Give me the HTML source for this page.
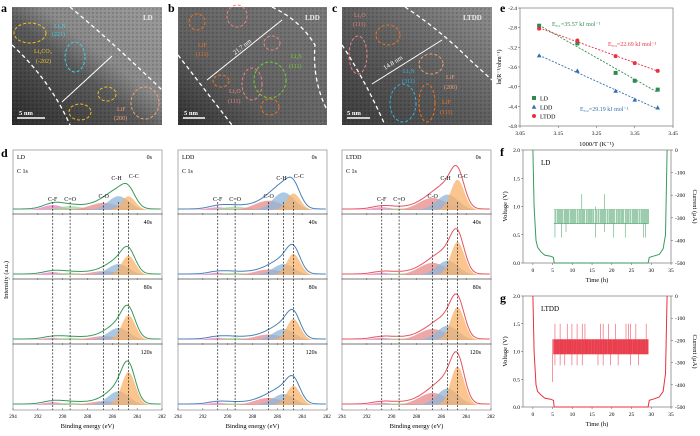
<!DOCTYPE html>
<html><head><meta charset="utf-8">
<style>
html,body{margin:0;padding:0;background:#fff;}
svg{display:block;font-family:"Liberation Serif",serif;}
</style></head>
<body>
<svg id="fig" width="700" height="436" viewBox="0 0 700 436" xmlns="http://www.w3.org/2000/svg">
<defs>
<linearGradient id="gA" x1="0" y1="1" x2="1" y2="0"><stop offset="0" stop-color="#2a2a2a"/><stop offset="0.45" stop-color="#5a5a5a"/><stop offset="0.6" stop-color="#8a8a8a"/><stop offset="1" stop-color="#9a9a9a"/></linearGradient>
<linearGradient id="gB" x1="0" y1="1" x2="1" y2="0"><stop offset="0" stop-color="#2e2e2e"/><stop offset="0.35" stop-color="#5e5e5e"/><stop offset="1" stop-color="#7a7a7a"/></linearGradient>
<linearGradient id="gC" x1="0" y1="1" x2="1" y2="0"><stop offset="0" stop-color="#3a3a3a"/><stop offset="0.5" stop-color="#5e5e5e"/><stop offset="1" stop-color="#8e8e8e"/></linearGradient>
<pattern id="noise" width="4" height="4" patternUnits="userSpaceOnUse"><rect width="4" height="4" fill="none"/><rect x="0" y="0" width="2" height="2" fill="#000" opacity="0.12"/><rect x="2" y="2" width="1" height="1" fill="#fff" opacity="0.1"/></pattern>
</defs>

<!-- Panel a -->
<g>
<text x="1" y="12" font-size="12" font-weight="bold">a</text>
<rect x="12" y="7" width="150" height="118" fill="url(#gA)"/>
<rect x="12" y="7" width="150" height="118" fill="url(#noise)"/>
<path d="M70,7 Q110,40 162,90" stroke="#fff" stroke-width="1.3" stroke-dasharray="4,3" fill="none"/>
<path d="M12,45 Q50,80 70,125" stroke="#fff" stroke-width="1.3" stroke-dasharray="4,3" fill="none"/>
<line x1="62" y1="102" x2="112" y2="56" stroke="#fff" stroke-width="1"/>
<ellipse cx="30" cy="33" rx="16" ry="10" fill="none" stroke="#f0c020" stroke-dasharray="3,2"/>
<ellipse cx="75" cy="57" rx="10" ry="15" fill="none" stroke="#40d0e0" stroke-dasharray="3,2"/>
<ellipse cx="107" cy="94" rx="9" ry="7" fill="none" stroke="#f0c020" stroke-dasharray="3,2"/>
<ellipse cx="80" cy="112" rx="11" ry="8" fill="none" stroke="#f0c020" stroke-dasharray="3,2"/>
<ellipse cx="145" cy="103" rx="14" ry="16" fill="none" stroke="#f0a070" stroke-dasharray="3,2"/>
<text x="54" y="28" font-size="6" fill="#40d0e0">Li₃N</text><text x="52" y="36" font-size="6" fill="#40d0e0">(221)</text>
<text x="34" y="53" font-size="6" fill="#f0c020">Li₂CO₃</text><text x="36" y="63" font-size="6" fill="#f0c020">(-202)</text>
<text x="117" y="111" font-size="6" fill="#f0a070">LiF</text><text x="114" y="120" font-size="6" fill="#f0a070">(200)</text>
<text x="143" y="20" font-size="7" font-weight="bold" fill="#eee">LD</text>
<line x1="17" y1="118" x2="45" y2="118" stroke="#fff" stroke-width="1.5"/><text x="19" y="115" font-size="6.5" fill="#fff" font-weight="bold">5 nm</text>
</g>
<!-- Panel b -->
<g>
<text x="168" y="12" font-size="12" font-weight="bold">b</text>
<rect x="178" y="7" width="149" height="118" fill="url(#gB)"/>
<rect x="178" y="7" width="149" height="118" fill="url(#noise)"/>
<path d="M272,7 Q300,20 315,45 Q312,80 327,110" stroke="#fff" stroke-width="1.3" stroke-dasharray="4,3" fill="none"/>
<path d="M178,55 Q205,90 232,125" stroke="#fff" stroke-width="1.3" stroke-dasharray="4,3" fill="none"/>
<line x1="207" y1="80" x2="282" y2="20" stroke="#fff" stroke-width="1"/>
<text x="235" y="55" font-size="6.5" fill="#fff" transform="rotate(-38 235 55)">21.7 nm</text>
<ellipse cx="197" cy="22" rx="8" ry="8" fill="none" stroke="#f07020" stroke-dasharray="3,2"/>
<ellipse cx="237" cy="16" rx="10" ry="11" fill="none" stroke="#f08080" stroke-dasharray="3,2"/>
<ellipse cx="272" cy="43" rx="8" ry="7" fill="none" stroke="#f08080" stroke-dasharray="3,2"/>
<ellipse cx="270" cy="80" rx="16" ry="18" fill="none" stroke="#70d030" stroke-dasharray="3,2"/>
<ellipse cx="252" cy="84" rx="10" ry="16" fill="none" stroke="#f08080" stroke-dasharray="3,2"/>
<ellipse cx="221" cy="81" rx="8" ry="6" fill="none" stroke="#f07020" stroke-dasharray="3,2"/>
<ellipse cx="270" cy="107" rx="9" ry="8" fill="none" stroke="#f07020" stroke-dasharray="3,2"/>
<text x="198" y="47" font-size="6" fill="#f07020">LiF</text><text x="196" y="56" font-size="6" fill="#f07020">(111)</text>
<text x="291" y="58" font-size="6" fill="#70d030">Li₂S</text><text x="289" y="68" font-size="6" fill="#70d030">(111)</text>
<text x="229" y="93" font-size="6" fill="#f08080">Li₂O</text><text x="228" y="103" font-size="6" fill="#f08080">(111)</text>
<text x="305" y="20" font-size="7" font-weight="bold" fill="#eee">LDD</text>
<line x1="183" y1="118" x2="205" y2="118" stroke="#fff" stroke-width="1.5"/><text x="184" y="115" font-size="6.5" fill="#fff" font-weight="bold">5 nm</text>
</g>
<!-- Panel c -->
<g>
<text x="332" y="12" font-size="12" font-weight="bold">c</text>
<rect x="342" y="7" width="150" height="118" fill="url(#gC)"/>
<rect x="342" y="7" width="150" height="118" fill="url(#noise)"/>
<path d="M405,7 Q440,30 470,60 L492,80" stroke="#fff" stroke-width="1.3" stroke-dasharray="4,3" fill="none"/>
<path d="M342,45 Q365,80 385,125" stroke="#fff" stroke-width="1.3" stroke-dasharray="4,3" fill="none"/>
<line x1="372" y1="84" x2="442" y2="40" stroke="#fff" stroke-width="1"/>
<text x="385" y="70" font-size="6.5" fill="#fff" transform="rotate(-32 385 70)">14.8 nm</text>
<ellipse cx="388" cy="35" rx="12" ry="10" fill="none" stroke="#f07020" stroke-dasharray="3,2"/>
<ellipse cx="358" cy="55" rx="9" ry="19" fill="none" stroke="#f08080" stroke-dasharray="3,2"/>
<ellipse cx="403" cy="103" rx="13" ry="19" fill="none" stroke="#30b0e0" stroke-dasharray="3,2"/>
<ellipse cx="427" cy="103" rx="8" ry="19" fill="none" stroke="#f07020" stroke-dasharray="3,2"/>
<ellipse cx="431" cy="64" rx="12" ry="10" fill="none" stroke="#f0a070" stroke-dasharray="3,2"/>
<text x="354" y="17" font-size="6" fill="#f08080">Li₂O</text><text x="353" y="26" font-size="6" fill="#f08080">(111)</text>
<text x="403" y="73" font-size="6" fill="#30b0e0">Li₃N</text><text x="402" y="83" font-size="6" fill="#30b0e0">(311)</text>
<text x="446" y="79" font-size="6" fill="#f0a070">LiF</text><text x="444" y="89" font-size="6" fill="#f0a070">(200)</text>
<text x="442" y="104" font-size="6" fill="#f07020">LiF</text><text x="440" y="114" font-size="6" fill="#f07020">(111)</text>
<text x="463" y="20" font-size="7" font-weight="bold" fill="#eee">LTDD</text>
<line x1="347" y1="118" x2="370" y2="118" stroke="#fff" stroke-width="1.5"/><text x="347" y="115" font-size="6.5" fill="#fff" font-weight="bold">5 nm</text>
</g>

<g id="pd"></g>
<g id="pe"></g>
<g id="pf"></g>
<g id="pg"></g>
</svg>
<script>
// ---------- Panel d data ----------
const xpsSamples = ["LD","LDD","LTDD"];
const xpsTimes = ["0s","40s","80s","120s"];
const xpsPeakNames = ["C-C","C-H","C-O","C=O","C-F"];
const xpsPeakPos = [284.7,285.5,286.7,289.4,290.8];
const xpsPeakWidth = [0.55,0.85,1.1,1.0,0.8];
const xpsLD = [[0.25,0.25,0.13,0.07,0.09],[0.35,0.2,0.07,0.04,0.05],[0.45,0.22,0.07,0.04,0.04],[0.6,0.25,0.07,0.04,0.05]];
const xpsLDD = [[0.3,0.32,0.17,0.06,0.05],[0.38,0.2,0.1,0.04,0.04],[0.38,0.2,0.1,0.04,0.04],[0.35,0.2,0.13,0.03,0.04]];
const xpsLTDD = [[0.55,0.28,0.22,0.03,0.05],[0.6,0.26,0.22,0.03,0.04],[0.6,0.26,0.2,0.03,0.04],[0.7,0.3,0.22,0.03,0.04]];
const xpsTicks = [294,292,290,288,286,284,282];
// ---------- Panel e data ----------
const arrT = [3.10,3.20,3.30,3.35,3.41];
const arrLD = [-2.76,-3.12,-3.72,-3.88,-4.06];
const arrLDD = [-3.37,-3.68,-4.09,-4.27,-4.43];
const arrLTDD = [-2.82,-3.06,-3.38,-3.52,-3.68];
const arrXTicks = [3.05,3.15,3.25,3.35,3.45];
const arrYTicks = [-2.4,-2.8,-3.2,-3.6,-4.0,-4.4,-4.8];
// ---------- Panel f/g data ----------
const vTime = [0,0.3,0.8,1.2,2,3,4.5,5.2,5.4,29.2,29.5,30.5,32,33,33.6,34];
const vLD = [2.0,1.0,0.4,0.28,0.2,0.14,0.12,0.1,0.0,0.0,0.1,0.12,0.15,0.25,0.5,2.0];
const vLTDD = [2.0,1.0,0.4,0.28,0.22,0.16,0.14,0.12,0.0,0.0,0.12,0.14,0.18,0.28,0.6,2.0];
const spikeTimesLD = [5.6,6.2,6.8,7.3,7.9,8.4,8.9,9.5,10.1,10.6,11.2,11.8,12.4,12.9,13.5,14.1,14.6,15.2,15.9,16.5,17.1,17.6,18.2,18.8,19.4,19.9,20.5,21.1,21.7,22.3,22.8,23.4,24.0,24.6,25.2,25.8,26.3,26.9,27.5,28.1,28.6,29.1];
const spikeTopLD = [0.95,0.95,0.95,0.95,0.95,0.95,0.95,0.95,0.95,0.95,0.95,0.95,1.22,0.95,0.95,0.95,0.95,0.95,1.0,0.95,0.95,0.95,1.22,0.95,0.95,0.95,0.95,0.95,0.95,0.95,0.95,0.95,0.95,0.95,0.95,0.95,0.95,0.95,0.95,0.95,0.95,0.95];
const spikeBotLD = [0.45,0.7,0.7,0.45,0.7,0.55,0.7,0.7,0.7,0.7,0.7,0.7,0.7,0.7,0.7,0.7,0.7,0.7,0.45,0.7,0.7,0.7,0.55,0.7,0.7,0.7,0.45,0.7,0.7,0.7,0.7,0.45,0.7,0.7,0.7,0.7,0.7,0.7,0.7,0.45,0.45,0.7];
const spikeTimesLTDD = [5.0,5.6,6.3,6.9,7.4,8.1,8.7,9.3,9.9,10.6,11.2,11.9,12.5,13.2,13.7,14.4,15.1,15.8,16.5,17.1,17.8,18.4,19.1,19.7,20.4,21.0,21.6,22.3,22.9,23.6,24.2,24.8,25.5,26.1,26.7,27.4,28.0,28.7];
const spikeTopLTDD = [1.22,1.5,1.22,1.5,1.22,1.22,1.5,1.22,1.5,1.22,1.5,1.22,1.5,1.5,1.22,1.22,1.22,1.22,1.22,1.5,1.5,1.22,1.5,1.22,1.22,1.5,1.22,1.22,1.22,1.5,1.5,1.5,1.22,1.5,1.22,1.22,1.22,1.5];
const spikeBotLTDD = [0.45,0.75,0.95,0.75,0.95,0.75,0.95,0.95,0.75,0.95,0.75,0.95,0.75,0.95,0.95,0.95,0.95,0.95,0.75,0.95,0.75,0.95,0.95,0.75,0.95,0.95,0.75,0.95,0.95,0.95,0.95,0.75,0.95,0.95,0.75,0.95,0.95,0.95];

const NS="http://www.w3.org/2000/svg";
function el(tag,attrs,parent,text){const e=document.createElementNS(NS,tag);for(const k in attrs)e.setAttribute(k,attrs[k]);if(text!==undefined)e.textContent=text;parent.appendChild(e);return e;}

// ===== Panel d =====
(function(){
  const g=document.getElementById('pd');
  const t=el('text',{x:1,y:157,'font-size':12,'font-weight':'bold'},g,'d');
  
  
  const yl=el('text',{x:8,y:280,'font-size':6.5,'text-anchor':'middle',transform:'rotate(-90 8 280)'},g,'Intensity (a.u.)');
  
  
  const boxes=[13,178,342], W=149, top=150, bot=410, rowH=65, scale=55;
  const data=[xpsLD,xpsLDD,xpsLTDD];
  const envCol=["#3b9a5c","#4a80b8","#e25560"];
  const fills=["#f8b26a","#8fb6da","#e88a8a","#9fd69a","#f07cc4"];
  const fillOrder=[4,3,2,1,0];
  xpsSamples.forEach((s,si)=>{
    const x0=boxes[si];
    const sx=v=>x0+(294-v)/12*W;
    const pg=el('g',{},g);
    
    
    el('rect',{x:x0,y:top,width:W,height:bot-top,fill:'none',stroke:'#999','stroke-width':0.8},pg);
    xpsTimes.forEach((tm,ri)=>{
      const rTop=top+ri*rowH, base=rTop+rowH-5;
      const amps=data[si][ri];
      const gauss=(v,k)=>amps[k]*Math.exp(-Math.pow(v-xpsPeakPos[k],2)/(2*xpsPeakWidth[k]*xpsPeakWidth[k]));
      const xs=[];for(let v=294;v>=282;v-=0.1)xs.push(v);
      fillOrder.forEach(k=>{
        let d='M'+sx(294)+','+base;
        xs.forEach(v=>{d+=' L'+sx(v).toFixed(1)+','+(base-scale*gauss(v,k)).toFixed(1);});
        d+=' L'+sx(282)+','+base+' Z';
        const p=el('path',{d:d,fill:fills[k],'fill-opacity':0.75,stroke:'none'},pg);
        
        
      });
      let d='';
      xs.forEach((v,i)=>{let y=0;for(let k=0;k<5;k++)y+=gauss(v,k);d+=(i?' L':'M')+sx(v).toFixed(1)+','+(base-1-scale*y).toFixed(1);});
      const env=el('path',{d:d,fill:'none',stroke:envCol[si],'stroke-width':1},pg);
      
      
      if(ri<3){el('rect',{x:x0,y:rTop+rowH-2,width:W,height:2,fill:'#bbb'},pg);}
      xpsTicks.forEach(v=>{el('line',{x1:sx(v),x2:sx(v),y1:rTop+rowH,y2:rTop+rowH-2,stroke:'#555','stroke-width':0.5},pg);});
      const tl=el('text',{x:x0+W-10,y:rTop+9,'font-size':6,'text-anchor':'end'},pg,tm);
      
      
    });
    el('text',{x:x0+4,y:top+9,'font-size':6},pg,s);
    el('text',{x:x0+4,y:top+23,'font-size':6},pg,'C 1s');
    xpsPeakPos.forEach((p,k)=>{
      el('line',{x1:sx(p),x2:sx(p),y1:top+52,y2:bot,stroke:'#222','stroke-width':0.7,'stroke-dasharray':'2,1.5'},pg);
    });
    const labX=[sx(284.6)+4,sx(285.5)-2,sx(286.7),sx(289.4),sx(290.8)];
    const ly=[top+28,top+30,top+48,top+51,top+51];
    xpsPeakNames.forEach((n,k)=>{const lt=el('text',{x:labX[k],y:ly[k],'font-size':6,'text-anchor':'middle'},pg,n);});
    xpsTicks.forEach(v=>{el('text',{x:sx(v),y:bot+8,'font-size':5,'text-anchor':'middle'},pg,String(v));});
    const xt=el('text',{x:x0+W/2,y:bot+18,'font-size':6.5,'text-anchor':'middle'},pg,'Binding energy (eV)');
    
    
  });
})();

// ===== Panel e =====
(function(){
  const g=document.getElementById('pe');
  const L=520,R=673,T=8,B=126;
  const sx=v=>L+(v-3.05)/0.4*(R-L), sy=v=>T+(-2.4-v)/2.4*(B-T);
  el('text',{x:500,y:12,'font-size':12,'font-weight':'bold'},g,'e');
  const ax=el('rect',{x:L,y:T,width:R-L,height:B-T,fill:'none',stroke:'#777','stroke-width':0.7},g);
  
  
  arrXTicks.forEach(v=>{el('line',{x1:sx(v),x2:sx(v),y1:B,y2:B+2,stroke:'#555','stroke-width':0.5},g);el('text',{x:sx(v),y:B+9,'font-size':5.5,'text-anchor':'middle'},g,v.toFixed(2));});
  arrYTicks.forEach(v=>{el('line',{x1:L-2,x2:L,y1:sy(v),y2:sy(v),stroke:'#555','stroke-width':0.5},g);el('text',{x:L-3,y:sy(v)+2,'font-size':5.5,'text-anchor':'end'},g,v.toFixed(1));});
  const xt=el('text',{x:(L+R)/2,y:B+20,'font-size':6.5,'text-anchor':'middle'},g,'1000/T (K⁻¹)');
  
  
  const yt=el('text',{x:L-19,y:(T+B)/2,'font-size':6,'text-anchor':'middle',transform:'rotate(-90 '+(L-19)+' '+(T+B)/2+')'},g,'ln(R⁻¹/ohm⁻¹)');
  
  
  const series=[["LD",arrLD,"#2e8b4e","sq"],["LDD",arrLDD,"#3070b0","tri"],["LTDD",arrLTDD,"#e83040","dot"]];
  series.forEach(([n,ys,c,m],si)=>{
    const nn=arrT.length;let mx=0,my=0;arrT.forEach((x,i)=>{mx+=x;my+=ys[i];});mx/=nn;my/=nn;
    let a=0,b=0;arrT.forEach((x,i)=>{a+=(x-mx)*(ys[i]-my);b+=(x-mx)*(x-mx);});const k=a/b,c0=my-k*mx;
    const fl=el('line',{x1:sx(3.10),y1:sy(k*3.10+c0),x2:sx(3.41),y2:sy(k*3.41+c0),stroke:c,'stroke-width':0.9,'stroke-dasharray':'2,1.5'},g);
    
    
    arrT.forEach((x,i)=>{
      const px=sx(x),py=sy(ys[i]);let mk;
      if(m==='sq')mk=el('rect',{x:px-2,y:py-2,width:4,height:4,fill:c},g);
      else if(m==='tri')mk=el('path',{d:`M${px},${py-2.5} L${px+2.3},${py+1.7} L${px-2.3},${py+1.7} Z`,fill:c},g);
      else mk=el('circle',{cx:px,cy:py,r:2,fill:c},g);
      
      
    });
    const ly=T+90+si*9;
    const lg=el('g',{},g);
    
    
    if(m==='sq')el('rect',{x:L+12,y:ly-2,width:4,height:4,fill:c},lg);
    else if(m==='tri')el('path',{d:`M${L+14},${ly-2.5} L${L+16.3},${ly+1.7} L${L+11.7},${ly+1.7} Z`,fill:c},lg);
    else el('circle',{cx:L+14,cy:ly,r:2,fill:c},lg);
    el('text',{x:L+20,y:ly+2.5,'font-size':6},lg,n);
  });
  el('text',{x:552,y:26,'font-size':6,fill:'#2e8b4e'},g,'Eₐ,₁=35.57 kJ mol⁻¹');
  el('text',{x:608,y:46,'font-size':6,fill:'#e83040'},g,'Eₐ,₃=22.69 kJ mol⁻¹');
  el('text',{x:580,y:111,'font-size':6,fill:'#3070b0'},g,'Eₐ,₂=29.19 kJ mol⁻¹');
})();

// ===== Panels f & g =====
function drawVolt(id,letter,label,T,B,vt,vv,st,stop,sbot,col){
  const g=document.getElementById(id);
  const L=523,R=671;
  const sx=v=>L+(v+2.5)/37.5*(R-L), sy=v=>B-(v/2)*(B-T);
  el('text',{x:500,y:T+6,'font-size':12,'font-weight':'bold'},g,letter);
  const ax=el('rect',{x:L,y:T,width:R-L,height:B-T,fill:'none',stroke:'#777','stroke-width':0.7},g);
  
  
  [0,5,10,15,20,25,30,35].forEach(v=>{el('line',{x1:sx(v),x2:sx(v),y1:B,y2:B+2,stroke:'#555','stroke-width':0.5},g);el('text',{x:sx(v),y:B+9,'font-size':5.5,'text-anchor':'middle'},g,String(v));});
  [0,0.5,1.0,1.5,2.0].forEach(v=>{el('line',{x1:L-2,x2:L,y1:sy(v),y2:sy(v),stroke:'#555','stroke-width':0.5},g);el('text',{x:L-3,y:sy(v)+2,'font-size':5.5,'text-anchor':'end'},g,v.toFixed(1));});
  [0,-100,-200,-300,-400,-500].forEach((v,i)=>{const y=T+i*(B-T)/5;el('line',{x1:R,x2:R+2,y1:y,y2:y,stroke:'#555','stroke-width':0.5},g);el('text',{x:R+4,y:y+2,'font-size':5.5},g,String(v));});
  const xt=el('text',{x:(L+R)/2,y:B+19,'font-size':6.5,'text-anchor':'middle'},g,'Time (h)');
  
  
  const m=(T+B)/2;
  el('text',{x:L-16,y:m,'font-size':6.5,'text-anchor':'middle',transform:`rotate(-90 ${L-16} ${m})`},g,'Voltage (V)');
  el('text',{x:R+22,y:m,'font-size':6.5,'text-anchor':'middle',transform:`rotate(90 ${R+22} ${m})`},g,'Current (μA)');
  el('text',{x:L+18,y:T+15,'font-size':7},g,label);
  let d='';vt.forEach((t,i)=>{d+=(i?' L':'M')+sx(t).toFixed(1)+','+sy(vv[i]).toFixed(1);});
  const p=el('path',{d:d,fill:'none',stroke:col,'stroke-width':1},g);
  
  
  const sg=el('g',{},g);
  
  
  if(letter==='g'){el('rect',{x:sx(5.2),y:sy(1.22),width:sx(29.3)-sx(5.2),height:sy(0.95)-sy(1.22),fill:col,opacity:0.85},sg);}
  else{el('line',{x1:sx(5.3),x2:sx(29.3),y1:sy(0.7),y2:sy(0.7),stroke:col,'stroke-width':0.6},sg);el('line',{x1:sx(5.3),x2:sx(29.3),y1:sy(0.95),y2:sy(0.95),stroke:col,'stroke-width':0.4,opacity:0.6},sg);}
  st.forEach((t,i)=>{
    el('line',{x1:sx(t),x2:sx(t),y1:sy(stop[i]),y2:sy(sbot[i]),stroke:col,'stroke-width':0.5},sg);
    el('line',{x1:sx(t+0.25),x2:sx(t+0.25),y1:sy(letter==='g'?1.22:0.95),y2:sy(letter==='g'?0.95:0.7),stroke:col,'stroke-width':0.5},sg);
  });
}
drawVolt('pf','f','LD',150,263,vTime,vLD,spikeTimesLD,spikeTopLD,spikeBotLD,'#3a9a5c');
drawVolt('pg','g','LTDD',296,407,vTime,vLTDD,spikeTimesLTDD,spikeTopLTDD,spikeBotLTDD,'#e83040');
</script>
</body></html>
